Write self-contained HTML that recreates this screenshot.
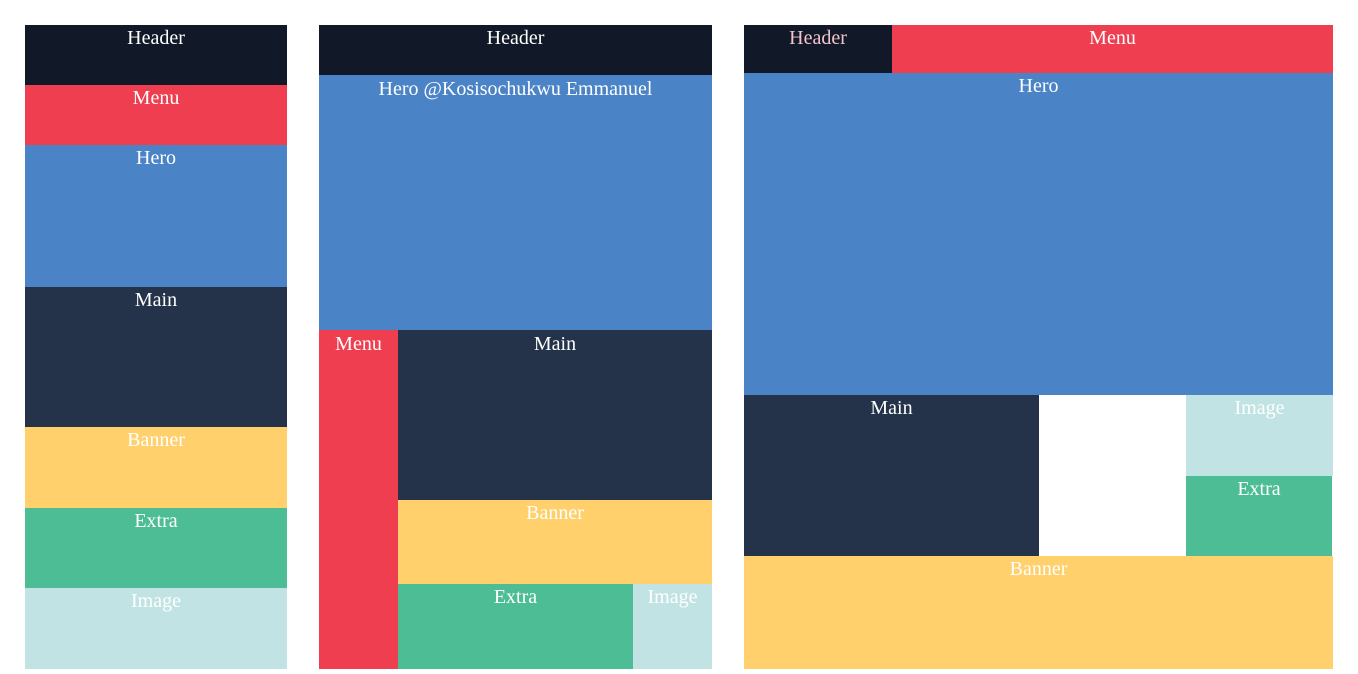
<!DOCTYPE html>
<html><head><meta charset="utf-8"><style>
body{margin:0;background:#fff;width:1358px;height:674px;position:relative;overflow:hidden;font-family:"Liberation Serif",serif}
.b{position:absolute;color:#fff;font-size:20px;text-align:center;line-height:22px;padding-top:2px;box-sizing:border-box}
.d{background:#111827}.r{background:#EF3E4F}.h{background:#4A83C6}.m{background:#243349}.y{background:#FFD06B}.g{background:#4DBD95}.i{background:#C1E3E3}
</style></head><body>
<div>
<div class="b d" style="left:25px;top:25px;width:262px;height:60px">Header</div>
<div class="b r" style="left:25px;top:85px;width:262px;height:60px">Menu</div>
<div class="b h" style="left:25px;top:145px;width:262px;height:142px">Hero</div>
<div class="b m" style="left:25px;top:287px;width:262px;height:140px">Main</div>
<div class="b y" style="left:25px;top:427px;width:262px;height:81px">Banner</div>
<div class="b g" style="left:25px;top:508px;width:262px;height:80px">Extra</div>
<div class="b i" style="left:25px;top:588px;width:262px;height:81px">Image</div>
</div>
<div>
<div class="b d" style="left:319px;top:25px;width:393px;height:50px">Header</div>
<div class="b h" style="left:319px;top:75px;width:393px;height:255px;padding-top:3px">Hero @Kosisochukwu Emmanuel</div>
<div class="b r" style="left:319px;top:330px;width:79px;height:339px;padding-top:3px">Menu</div>
<div class="b m" style="left:398px;top:330px;width:314px;height:170px;padding-top:3px">Main</div>
<div class="b y" style="left:398px;top:500px;width:314px;height:84px">Banner</div>
<div class="b g" style="left:398px;top:584px;width:235px;height:85px">Extra</div>
<div class="b i" style="left:633px;top:584px;width:79px;height:85px">Image</div>
</div>
<div>
<div class="b d" style="left:744px;top:25px;width:148px;height:48px;color:#f2c4cc">Header</div>
<div class="b r" style="left:892px;top:25px;width:441px;height:48px">Menu</div>
<div class="b h" style="left:744px;top:73px;width:589px;height:322px">Hero</div>
<div class="b m" style="left:744px;top:395px;width:295px;height:161px">Main</div>
<div class="b i" style="left:1186px;top:395px;width:147px;height:81px">Image</div>
<div class="b g" style="left:1186px;top:476px;width:146px;height:80px">Extra</div>
<div class="b y" style="left:744px;top:556px;width:589px;height:113px">Banner</div>
</div>
</body></html>
